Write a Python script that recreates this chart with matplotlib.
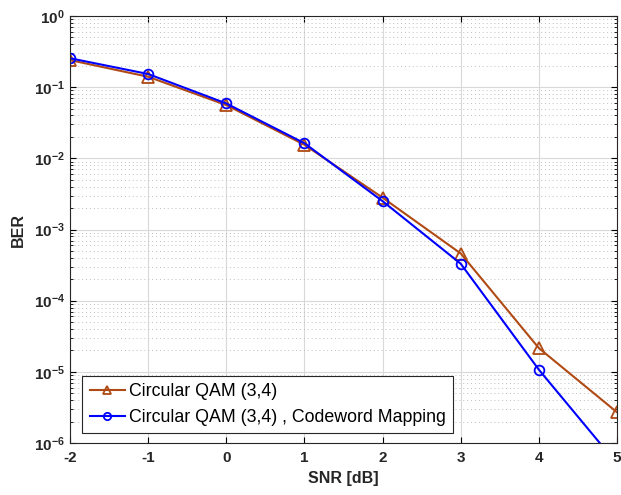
import numpy as np
import matplotlib.pyplot as plt
from matplotlib.ticker import LogLocator, NullFormatter, FixedLocator

snr = [-2, -1, 0, 1, 2, 3, 4, 5]
ber_qam = [0.24, 0.14, 0.056, 0.0155, 0.0028, 4.6e-4, 2.15e-5, 2.7e-6]
ber_qam_cw = [0.255, 0.153, 0.059, 0.0163, 0.0025, 3.3e-4, 1.07e-5, 5.1e-7]
ber_ticks = [1e-6, 1e-5, 1e-4, 1e-3, 1e-2, 1e-1, 1e0]

label_qam = 'Circular QAM (3,4)'
label_qam_cw = 'Circular QAM (3,4) , Codeword Mapping'

plt.rcParams['font.family'] = ['Liberation Sans', 'DejaVu Sans']
plt.rcParams['axes.unicode_minus'] = False

fig = plt.figure(figsize=(6.21, 4.95), dpi=100)
ax = fig.add_axes([0.1127, 0.105, 0.881, 0.8627])

ax.semilogy(snr, ber_qam, color='#B04A14', marker='^', markersize=8,
            markerfacecolor='none', markeredgewidth=1.3, linewidth=1.5, label=label_qam)
ax.semilogy(snr, ber_qam_cw, color='#0000FF', marker='o', markersize=7,
            markerfacecolor='none', markeredgewidth=1.3, linewidth=1.5, label=label_qam_cw)

ax.set_xlim(-2, 5)
ax.set_ylim(1e-6, 1e0)
ax.xaxis.set_major_locator(FixedLocator(snr))
ax.yaxis.set_major_locator(FixedLocator(ber_ticks))
ax.yaxis.set_minor_locator(LogLocator(base=10, subs=np.arange(2, 10), numticks=20))
ax.yaxis.set_minor_formatter(NullFormatter())

ax.grid(True, which='major', color='#D9D9D9', linewidth=0.8, linestyle='-')
ax.grid(True, which='minor', axis='y', color='#BFBFBF', linewidth=0.7, linestyle=(0, (1, 3)))
ax.set_axisbelow(True)

ax.tick_params(which='both', direction='in', top=True, right=True, labelsize=11)
ax.tick_params(which='major', length=4)
ax.tick_params(which='minor', length=2.5)
ax.tick_params(axis='x', pad=6)
for lab in ax.get_xticklabels() + ax.get_yticklabels():
    lab.set_fontweight('bold')
    lab.set_color('#262626')
for sp in ax.spines.values():
    sp.set_color('#262626')

ax.set_xlabel('SNR [dB]', fontsize=11.5, fontweight='bold', color='#262626', labelpad=4)
ax.set_ylabel('BER', fontsize=11.5, fontweight='bold', color='#262626', labelpad=6)

leg = ax.legend(loc='lower left', bbox_to_anchor=(0.013, 0.01), fontsize=12.8,
                fancybox=False, edgecolor='#262626', framealpha=1,
                handlelength=2.0, borderpad=0.4, labelspacing=0.5, handletextpad=0.2,
                borderaxespad=0.3, markerscale=0.75)
leg.get_frame().set_linewidth(0.8)

fig.savefig('out.png', dpi=100)
